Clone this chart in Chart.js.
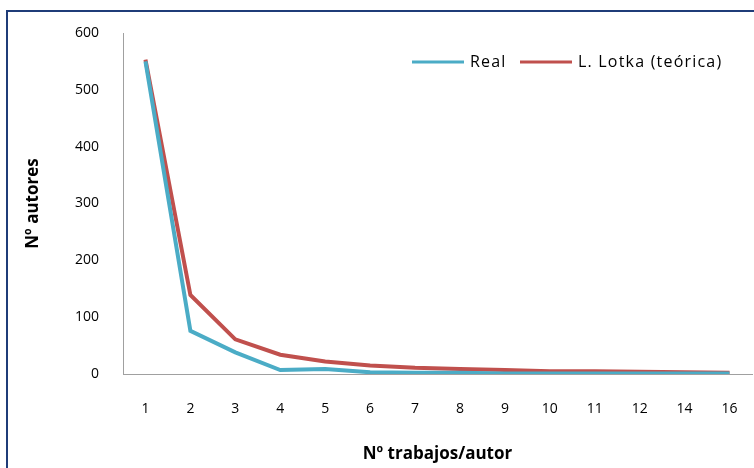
<!DOCTYPE html>
<html>
<head>
<meta charset="utf-8">
<script src="https://cdn.jsdelivr.net/npm/chart.js@4"></script>
<style>
  html, body { margin: 0; padding: 0; background: #fff; overflow: hidden; }
  #frame { position: absolute; left: 6px; top: 10px; width: 800px; height: 500px; border: 2px solid #1f3c78; }
  #wrap { position: absolute; left: 0; top: 0; width: 754px; height: 468px; }
</style>
</head>
<body>
<div id="frame"></div>
<div id="wrap"><canvas id="chart" width="754" height="468"></canvas></div>
<script>
const categories = ["1", "2", "3", "4", "5", "6", "7", "8", "9", "10", "11", "12", "14", "16"];
const realValues = [550, 76, 38, 7, 9, 3, 2, 2, 1, 1, 1, 1, 1, 1];
const lotkaValues = [553, 139, 61, 34, 22, 15, 11, 9, 7, 5, 5, 4, 3, 2];
const yTicks = [0, 100, 200, 300, 400, 500, 600];

const fontFamily = "'Open Sans', Lato, sans-serif";

// legend drawn inside the plot area, like the Excel original
const insideLegend = {
  id: "insideLegend",
  afterDraw(chart) {
    const ctx = chart.ctx;
    const y = 62;
    const items = [
      { x: 412, ds: chart.data.datasets[0] },
      { x: 520, ds: chart.data.datasets[1] }
    ];
    ctx.save();
    ctx.font = "16px " + fontFamily;
    ctx.letterSpacing = "1.2px";
    ctx.textBaseline = "middle";
    items.forEach(it => {
      ctx.strokeStyle = it.ds.borderColor;
      ctx.lineWidth = 3;
      ctx.beginPath();
      ctx.moveTo(it.x, y);
      ctx.lineTo(it.x + 52, y);
      ctx.stroke();
      ctx.fillStyle = "#000";
      ctx.fillText(it.ds.label, it.x + 58, y);
    });
    ctx.restore();
  }
};

new Chart(document.getElementById("chart"), {
  type: "line",
  data: {
    labels: categories,
    datasets: [
      {
        label: "Real",
        data: realValues,
        borderColor: "#4bacc6",
        borderWidth: 4,
        pointRadius: 0,
        tension: 0
      },
      {
        label: "L. Lotka (teórica)",
        data: lotkaValues,
        borderColor: "#c0504d",
        borderWidth: 4,
        pointRadius: 0,
        tension: 0
      }
    ]
  },
  options: {
    responsive: false,
    animation: false,
    layout: { padding: { top: 33, right: 2, left: 0, bottom: 0 } },
    plugins: {
      legend: { display: false },
      tooltip: { enabled: false }
    },
    scales: {
      x: {
        offset: true,
        grid: { display: false, drawTicks: false },
        border: { color: "#a0a0a0", width: 1 },
        ticks: { color: "#000", padding: 27, font: { family: fontFamily, size: 14 }, maxRotation: 0 },
        title: {
          display: true,
          text: "Nº trabajos/autor",
          color: "#000",
          font: { family: fontFamily, size: 17, weight: "bold" },
          padding: { top: 0, bottom: 4 }
        },
        afterFit(scale) {
          scale.height = 94;
          scale.paddingLeft = 0;
          scale.paddingRight = 0;
        }
      },
      y: {
        min: 0,
        max: 600,
        afterBuildTicks(scale) { scale.ticks = yTicks.map(v => ({ value: v })); },
        grid: { display: false, drawTicks: false },
        border: { color: "#a0a0a0", width: 1 },
        ticks: { color: "#000", padding: 24, font: { family: fontFamily, size: 14 } },
        title: {
          display: true,
          text: "Nº autores",
          color: "#000",
          font: { family: fontFamily, size: 17, weight: "bold" },
          padding: { top: 23, bottom: 0 }
        },
        afterFit(scale) {
          scale.width = 123;
          scale.paddingTop = 0;
          scale.paddingBottom = 0;
        }
      }
    }
  },
  plugins: [insideLegend]
});
</script>
</body>
</html>
